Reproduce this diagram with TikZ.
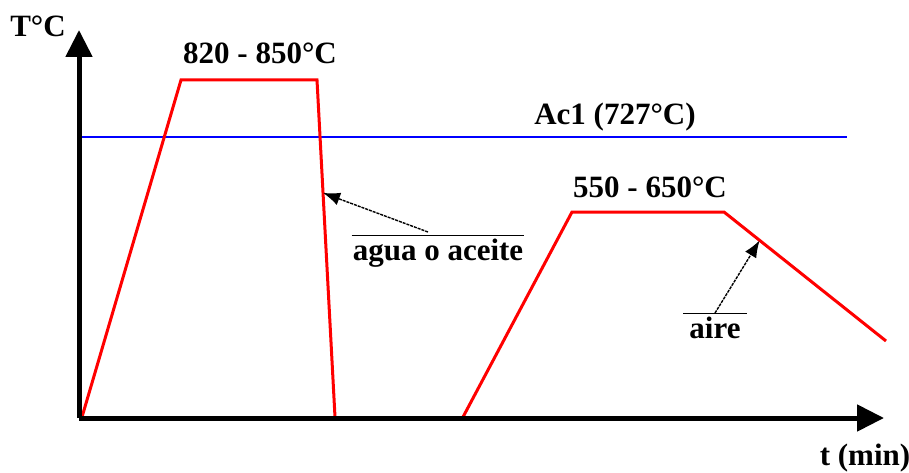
\documentclass[tikz,border=0pt]{standalone}
\usepackage{fontspec}
\setmainfont{Liberation Serif}
\usetikzlibrary{arrows.meta,calc,positioning}
\definecolor{CurveRed}{RGB}{255,0,0}
\definecolor{LineBlue}{RGB}{0,0,255}
\tikzset{
  axis/.style={line width=5pt,-{Triangle[length=27pt,width=26pt]}},
  curve/.style={CurveRed,line width=3pt,line join=miter},
  lbl/.style={font=\fontsize{31}{37}\selectfont\bfseries,inner sep=0pt},
  pointer/.style={line width=1.4pt,dash pattern=on 3pt off 1pt,-{Latex[length=17pt,width=13pt]}}
}
\begin{document}
\begin{tikzpicture}[x=1pt,y=-1pt]
\useasboundingbox (0,0) rectangle (909,473);
% puntos del ciclo
\coordinate (O) at (79,418);
\coordinate (q1) at (82,417);
\coordinate (q2) at (181,80);
\coordinate (q3) at (317,80);
\coordinate (q4) at (335,417);
\coordinate (r1) at (463,417);
\coordinate (r2) at (572,212);
\coordinate (r3) at (724,212);
\coordinate (r4) at (886,341);
% Ac1
\draw[LineBlue,line width=1.2pt] (82,137) -- (847,137);
% temple y revenido
\draw[curve] (q1) -- (q2) -- (q3) -- (q4);
\draw[curve] (r1) -- (r2) -- (r3) -- (r4);
% ejes
\coordinate (ytip) at (79,30);
\coordinate (xtip) at (884,418);
\draw[axis] (O) -- (ytip);
\draw[axis] (O) -- (xtip);
\node[lbl] (ylab) at (38,26) {T°C};
\node[lbl] (xlab) at (865,458) {t (min)};
\node[lbl] (temple) at (260,53) {820 - 850°C};
\node[lbl] (ac1) at (615,117) {Ac1 (727°C)};
\node[lbl] (revenido) at (650,187) {550 - 650°C};
% medios de enfriamiento
\node[lbl,anchor=north,inner xsep=1pt,inner ysep=4pt] (agua) at (438,235) {agua o aceite};
\node[lbl,anchor=north,inner xsep=6pt,inner ysep=4pt] (aire) at (715,313) {aire};
\draw[line width=1pt] (agua.north west) -- (agua.north east);
\draw[line width=1pt] (aire.north west) -- (aire.north east);
\coordinate (ptemple) at ($(q3)!0.335!(q4)$);
\coordinate (prev) at ($(r3)!0.22!(r4)$);
\draw[pointer] (agua.north) ++(-10,-3) -- (ptemple);
\draw[pointer] (aire.north) -- (prev);
\end{tikzpicture}
\end{document}
